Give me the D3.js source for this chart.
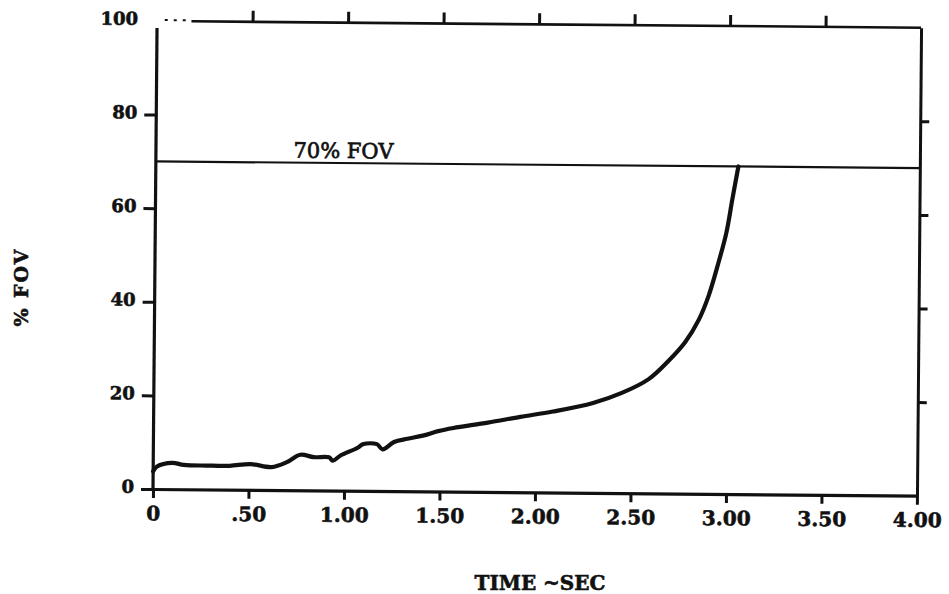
<!DOCTYPE html>
<html>
<head>
<meta charset="utf-8">
<script src="https://cdn.jsdelivr.net/npm/d3@7"></script>
<style>
  html, body { margin: 0; padding: 0; background: #fff; }
  svg { display: block; }
  .tick-label { font-family: "DejaVu Serif", serif; font-weight: bold; fill: #111; stroke: #111; stroke-width: 0.6px; }
</style>
</head>
<body>
<svg id="chart" width="949" height="594"></svg>
<script>
// Time axis (seconds)
const timeTicks = [0, 0.5, 1, 1.5, 2, 2.5, 3, 3.5, 4];
const timeTickLabels = ["0", ".50", "1.00", "1.50", "2.00", "2.50", "3.00", "3.50", "4.00"];
// Field-of-view axis (percent)
const fovTicks = [0, 20, 40, 60, 80, 100];
const fovTickLabels = ["0", "20", "40", "60", "80", "100"];
// Threshold level
const thresholdFov = 70;
const thresholdLabel = "70% FOV";
// Measured trace: % FOV against time
const timeSec = [0, 0.02, 0.10, 0.16, 0.28, 0.40, 0.51, 0.62, 0.70, 0.77, 0.84, 0.92, 0.94, 0.98,
                 1.07, 1.10, 1.17, 1.20, 1.26, 1.33, 1.41, 1.49, 1.57, 1.75, 1.92, 2.09, 2.30,
                 2.45, 2.59, 2.69, 2.78, 2.85, 2.90, 2.95, 2.99, 3.02, 3.05];
const fovPct = [3.8, 4.8, 5.6, 5.2, 5.1, 5.1, 5.5, 4.9, 6.0, 7.6, 7.1, 7.1, 6.4, 7.5,
                9.2, 10.0, 10.0, 8.9, 10.5, 11.2, 11.9, 12.9, 13.6, 14.8, 16.1, 17.3, 19.2,
                21.4, 24.4, 28.2, 32.4, 37.2, 42.3, 49.4, 55.8, 63.0, 70.0];

const svg = d3.select("#chart");
const W = 949, H = 594;
svg.append("rect").attr("width", W).attr("height", H).attr("fill", "#fff");

const x = d3.scaleLinear().domain([0, 4]).range([153, 917]);
const y = d3.scaleLinear().domain([0, 100]).range([489, 21]);

// The plot sits slightly skewed on the sheet
const plot = svg.append("g").attr("transform", `rotate(0.5, ${x(0)}, ${y(0)})`);

const ink = "#111";

function styleAxis(g, width) {
  g.selectAll("path.domain").attr("stroke", ink).attr("stroke-width", width);
  g.selectAll(".tick line").attr("stroke", ink).attr("stroke-width", 3);
}

// Bottom axis with labels
const xAxis = d3.axisBottom(x)
  .tickValues(timeTicks)
  .tickFormat((d, i) => timeTickLabels[i])
  .tickSizeInner(9).tickSizeOuter(0).tickPadding(8);
const gx = plot.append("g").attr("transform", `translate(0,${y(0)})`).call(xAxis);
styleAxis(gx, 3.2);
gx.selectAll(".tick text").attr("class", "tick-label")
  .style("font-size", "20px").attr("fill", ink);

// Left axis with labels
const yAxis = d3.axisLeft(y)
  .tickValues(fovTicks)
  .tickFormat((d, i) => fovTickLabels[i])
  .tickSizeInner(12).tickSizeOuter(0).tickPadding(7);
const gy = plot.append("g").attr("transform", `translate(${x(0)},0)`).call(yAxis);
styleAxis(gy, 3.2);
gy.select("path.domain").remove();
gy.selectAll(".tick text").attr("class", "tick-label")
  .style("font-size", "18px").attr("fill", ink).attr("dy", "0.2em");
gy.selectAll(".tick").filter(d => d === 100).select("line").remove();

// Left frame edge
plot.append("line")
  .attr("x1", x(0)).attr("x2", x(0))
  .attr("y1", y(0)).attr("y2", y(98.5))
  .attr("stroke", ink).attr("stroke-width", 3.2);

// Top edge: ticks pointing outward, faint dotted start near the corner
const topAxis = d3.axisTop(x)
  .tickValues(timeTicks.slice(1, -1))
  .tickFormat("")
  .tickSizeInner(11).tickSizeOuter(0);
const gt = plot.append("g").attr("transform", `translate(0,${y(100)})`).call(topAxis);
styleAxis(gt, 3);
gt.select("path.domain").remove();
plot.append("line")
  .attr("x1", x(0.18)).attr("x2", x(4))
  .attr("y1", y(100)).attr("y2", y(100))
  .attr("stroke", ink).attr("stroke-width", 2.6);
plot.append("line")
  .attr("x1", x(0.04)).attr("x2", x(0.18))
  .attr("y1", y(100) - 1).attr("y2", y(100) - 1)
  .attr("stroke", ink).attr("stroke-width", 2)
  .attr("stroke-dasharray", "3,6");

// Right edge with outward ticks
const rightAxis = d3.axisRight(y)
  .tickValues(fovTicks.slice(1, -1))
  .tickFormat("")
  .tickSizeInner(9).tickSizeOuter(0);
const gr = plot.append("g").attr("transform", `translate(${x(4)},0)`).call(rightAxis);
styleAxis(gr, 3);

// Threshold line and its label
plot.append("line")
  .attr("x1", x(0)).attr("x2", x(4))
  .attr("y1", y(thresholdFov)).attr("y2", y(thresholdFov))
  .attr("stroke", ink).attr("stroke-width", 2.2);
plot.append("text")
  .attr("x", x(0.72)).attr("y", y(thresholdFov) - 5)
  .attr("font-family", "'DejaVu Serif', serif")
  .attr("font-size", 21)
  .attr("fill", ink)
  .attr("stroke", ink)
  .attr("stroke-width", 0.7)
  .text(thresholdLabel);

// Measured trace
const line = d3.line()
  .x((d, i) => x(timeSec[i]))
  .y(d => y(d))
  .curve(d3.curveCatmullRom.alpha(0.5));
plot.append("path")
  .datum(fovPct)
  .attr("d", line)
  .attr("fill", "none")
  .attr("stroke", ink)
  .attr("stroke-width", 4.2)
  .attr("stroke-linejoin", "round")
  .attr("stroke-linecap", "round");

// Axis titles
svg.append("text")
  .attr("x", 540).attr("y", 590)
  .attr("text-anchor", "middle")
  .attr("class", "tick-label")
  .style("font-size", "20px")
  .text("TIME ~SEC");

svg.append("text")
  .attr("transform", "translate(28,287) rotate(-90)")
  .attr("text-anchor", "middle")
  .attr("class", "tick-label")
  .style("font-size", "19px")
  .style("letter-spacing", "2px")
  .text("% FOV");
</script>
</body>
</html>
